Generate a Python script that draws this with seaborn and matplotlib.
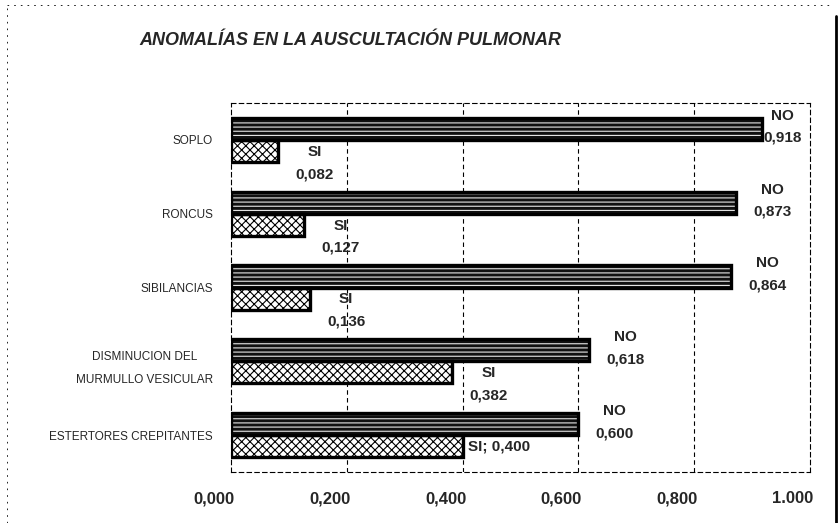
import matplotlib
matplotlib.use("Agg")

import pandas as pd
import matplotlib.pyplot as plt
import seaborn as sns
from matplotlib.transforms import ScaledTranslation
from matplotlib.patches import Rectangle
from matplotlib.lines import Line2D

# ===============================
# datos
# ===============================
categorias = [
    "SOPLO",
    "RONCUS",
    "SIBILANCIAS",
    "DISMINUCION DEL\nMURMULLO VESICULAR",
    "ESTERTORES CREPITANTES",
]
valores_no = [0.918, 0.873, 0.864, 0.618, 0.600]
valores_si = [0.082, 0.127, 0.136, 0.382, 0.400]
etiquetas_no = ["0,918", "0,873", "0,864", "0,618", "0,600"]
etiquetas_si = ["0,082", "0,127", "0,136", "0,382", "0,400"]
ticks_x = [0.0, 0.2, 0.4, 0.6, 0.8, 1.0]
ticks_x_txt = ["0,000", "0,200", "0,400", "0,600", "0,800", "1.000"]

df = pd.DataFrame({
    "categoria": categorias * 2,
    "respuesta": ["NO"] * len(categorias) + ["SI"] * len(categorias),
    "valor": valores_no + valores_si,
})

# ===============================
# estilo
# ===============================
sns.set_style("white")
plt.rcParams["font.family"] = ["Liberation Sans", "DejaVu Sans"]
plt.rcParams["hatch.linewidth"] = 0.8

fig = plt.figure(figsize=(8.39, 5.23), dpi=100)
ax = fig.add_axes([0.2753, 0.0975, 0.69, 0.7055])

sns.barplot(
    data=df, y="categoria", x="valor", hue="respuesta",
    hue_order=["NO", "SI"], orient="h", width=0.6,
    legend=False, ax=ax,
)

# ===============================
# tramas de las barras
# ===============================
for p in ax.containers[0]:
    p.set_facecolor("#101010")
    p.set_edgecolor("#e8e8e8")
    p.set_hatch("----")
    p.set_linewidth(0)
for p in ax.containers[1]:
    p.set_facecolor("white")
    p.set_edgecolor("black")
    p.set_hatch("xxxx")
    p.set_linewidth(0)
for cont in ax.containers:
    for p in cont:
        ax.add_patch(Rectangle(p.get_xy(), p.get_width(), p.get_height(),
                               fill=False, edgecolor="black", linewidth=2.4,
                               zorder=3))

# ===============================
# ejes
# ===============================
ax.set_xlim(0, 1.0)
ax.set_xlabel("")
ax.set_ylabel("")
ax.set_xticks(ticks_x)
ax.set_xticklabels(ticks_x_txt, fontsize=12, fontweight="bold")
ax.tick_params(axis="x", length=0, pad=14)
ax.tick_params(axis="y", length=3, pad=10, labelsize=8.5)
for lab in ax.get_yticklabels():
    lab.set_multialignment("center")
    lab.set_linespacing(2.2)
off = ScaledTranslation(-0.17, 0, fig.dpi_scale_trans)
for lab in ax.get_xticklabels():
    lab.set_transform(lab.get_transform() + off)

for s in ax.spines.values():
    s.set_visible(True)
    s.set_color("black")
    s.set_linewidth(0.8)
    s.set_linestyle((0, (4, 3)))
for xv in ticks_x[1:-1]:
    ax.axvline(xv, color="black", lw=0.8, ls=(0, (4, 3)), zorder=0)

# ===============================
# etiquetas de datos
# ===============================
t_no = ax.transData + ScaledTranslation(0, 0.02, fig.dpi_scale_trans)
t_si = ax.transData + ScaledTranslation(0, -0.12, fig.dpi_scale_trans)
for i, p in enumerate(ax.containers[0]):
    yc = p.get_y() + p.get_height() / 2
    xt = min(valores_no[i] + 0.063, 0.953)
    ax.text(xt, yc, "NO\n" + etiquetas_no[i], transform=t_no,
            ha="center", va="center", fontsize=11, fontweight="bold",
            linespacing=1.75, zorder=5)
for i, p in enumerate(ax.containers[1]):
    yc = p.get_y() + p.get_height() / 2
    if i == len(categorias) - 1:
        ax.text(valores_si[i] + 0.01, yc, "SI; " + etiquetas_si[i],
                ha="left", va="center", fontsize=11, fontweight="bold",
                zorder=5)
    else:
        ax.text(valores_si[i] + 0.063, yc, "SI\n" + etiquetas_si[i],
                transform=t_si, ha="center", va="center", fontsize=11,
                fontweight="bold", linespacing=1.75, zorder=5)

# ===============================
# titulo y marco
# ===============================
fig.text(0.418, 0.923, "ANOMALÍAS EN LA AUSCULTACIÓN PULMONAR",
         ha="center", va="center", fontsize=13, fontweight="bold",
         fontstyle="italic")
fig.add_artist(Line2D([0.008, 0.992], [0.99, 0.99], color="black",
                      lw=0.6, ls=(0, (2, 6))))
fig.add_artist(Line2D([0.008, 0.008], [0.0, 0.99], color="black",
                      lw=0.6, ls=(0, (2, 6))))
fig.add_artist(Line2D([0.996, 0.996], [0.0, 0.97], color="black", lw=2))

fig.savefig("out.png", dpi=100)
plt.close(fig)
